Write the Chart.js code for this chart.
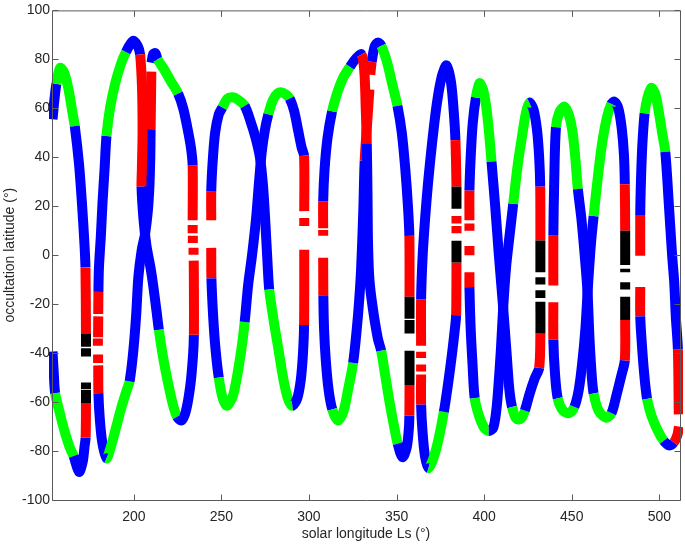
<!DOCTYPE html>
<html>
<head>
<meta charset="utf-8">
<script src="https://cdn.jsdelivr.net/npm/chart.js@4"></script>
<style>
  html, body { margin: 0; padding: 0; background: #fff; }
  canvas { display: block; }
</style>
</head>
<body>
<canvas id="chart" width="685" height="544"></canvas>
<script>
// tick labels
var lsTicks = [200, 250, 300, 350, 400, 450, 500];
var latTicks = [-100, -80, -60, -40, -20, 0, 20, 40, 60, 80, 100];

// occultation tracks: [Ls, latitude, class]  b=blue g=green r=red k=black, null = gap
var upper1 = [[153.6,55.5,'b'],[154.6,63,'b'],[155.8,70,'g'],[157.9,76.5,'g'],[160.3,74.5,'g'],[162.8,67.5,'g'],[164.8,59,'g'],[166.3,52.7,'b'],[168.7,37.4,'b'],[170.4,21.2,'b'],[171.8,5,'b'],[172.4,-5,'r'],[172.7,-32.2,'k'],[172.7,-37.4,''],[172.7,null,''],[172.7,-38,'k'],[172.7,-41.4,'k']];
var lower1 = [[153.6,-39.4,'b'],[154.3,-48,'b'],[155.1,-56.4,'g'],[157.6,-64,'g'],[160.5,-72,'g'],[163.4,-78.5,'g'],[165.6,-82,'b'],[168.7,-88.5,'b'],[170.8,-84.5,'b'],[171.9,-78,'b'],[172.5,-74.5,'r'],[172.7,-60.4,'k'],[172.7,-55,''],[172.7,null,''],[172.7,-54.7,'k'],[172.7,-52,'k']];

var upper2 = [[179.5,-37,'r'],[179.5,-34,''],[179.5,null,''],[179.6,-33.5,'r'],[179.7,-25,''],[179.7,null,''],[179.7,-24,'r'],[179.8,-15,'b'],[180.1,-5,'b'],[181.2,8,'b'],[182.1,21,'b'],[183.3,35,'b'],[184.4,48.7,'g'],[186.4,60,'g'],[189.3,70,'g'],[192.6,78,'g'],[195.5,83,'b'],[199.5,87.5,'b'],[202.2,85.5,'b'],[203.6,82,'r'],[204.7,68,'r'],[205,50,'r'],[204.6,35,'r'],[204.4,28,'b'],[205.5,15,'b'],[207.2,4,'b'],[209.5,-5,'b'],[211,-12,'b'],[213,-23,'b'],[214.3,-30.5,'g'],[216.8,-42,'g'],[219.8,-53,'g'],[222.5,-61.5,'g'],[224.7,-66,'b'],[227.3,-67.5,'b'],[229.8,-63.5,'b'],[232.3,-53,'b'],[233.8,-41,'b'],[234.3,-32.5,'r'],[234.3,-11,'r'],[234.2,-2.2,''],[234.2,null,''],[234.1,0.2,'r'],[234.1,3,'r']];
var lower2 = [[179.6,-40.6,'r'],[179.6,-44,''],[179.6,null,''],[179.7,-45,'r'],[179.8,-56.4,'b'],[180.6,-67,'b'],[182,-76.5,'b'],[184.4,-83,'g'],[187,-78,'g'],[190,-70,'g'],[193,-62,'g'],[195.8,-55.5,'g'],[197.6,-51.5,'b'],[199.6,-40,'b'],[201.3,-25,'b'],[202.6,-9,'b'],[204.5,2,'b'],[206.5,9,'b'],[208,18,'b'],[208.9,28,'b'],[209.4,40,'b'],[209.6,51.5,'r'],[209.8,63,'r'],[210,75,''],[210,null,''],[210.1,78.6,'b'],[211,82,'b'],[212.3,82.5,'b'],[213.6,80,'g'],[217.2,76,'g'],[221.2,71,'g'],[225.3,66,'b'],[228.2,60,'b'],[230.6,52,'b'],[232.6,44,'b'],[233.6,36.6,'r'],[233.6,14.3,''],[233.6,null,''],[233.6,12.3,'r'],[233.6,9,''],[233.6,null,''],[233.7,7.9,'r'],[233.7,5,'r']];

var upper3 = [[244.2,14.3,'r'],[244.2,26,'b'],[245,38,'b'],[246.4,50,'b'],[248.5,57.5,'b'],[250.6,60.4,'g'],[253.5,64,'g'],[256.5,64.5,'g'],[259.5,63.5,'g'],[263.3,61,'b'],[266.5,55,'b'],[269.5,48,'b'],[272,40,'b'],[273.8,28,'b'],[275.2,12,'b'],[276.4,-4,'b'],[277.3,-14,'g'],[279.9,-27,'g'],[282.7,-39,'g'],[285.6,-51.5,'g'],[288.2,-59,'g'],[290.5,-61.5,'b'],[293.3,-58.5,'b'],[295.3,-51,'b'],[296.5,-41,'b'],[297.2,-28.5,'r'],[297.3,2.2,'r']];
var lower3 = [[244.2,3,'r'],[244.3,-9.5,'b'],[245.3,-25,'b'],[246.6,-38,'b'],[248.5,-50,'g'],[250.6,-58,'g'],[253,-61.5,'g'],[256.3,-58,'g'],[258.8,-50,'g'],[261.5,-38,'g'],[263.3,-27.3,'b'],[265.3,-12,'b'],[267.5,0,'b'],[269.8,15,'b'],[271.5,30,'b'],[273,42,'b'],[274.8,51,'b'],[276.8,57.6,'g'],[279.5,63.5,'g'],[282,66,'g'],[284.4,66.5,'g'],[287,65.5,'g'],[289,64,'b'],[291.5,59,'b'],[293.8,51,'b'],[295.8,44,'b'],[297.2,40.6,'r'],[297.3,18,''],[297.3,null,''],[297.3,15.2,'r'],[297.3,11.9,'r']];

var upper4 = [[308.1,7.9,'r'],[308.1,10.3,''],[308.1,null,''],[308.1,11,'r'],[308.1,22,'b'],[308.9,35,'b'],[310.6,48,'b'],[313.2,58.8,'g'],[316,66,'g'],[319.5,72.5,'g'],[323.4,77,'b'],[327,80.5,'b'],[330,82,'r'],[331.6,75,'r'],[332.4,60,'r'],[333,45.5,'b'],[333.4,25,'b'],[333.7,5,'b'],[334.5,-10,'b'],[336.5,-22,'b'],[339.3,-34,'b'],[341.2,-39,'g'],[343.5,-49,'g'],[346,-60,'g'],[348.6,-70,'g'],[350.6,-77,'b'],[353.4,-82.5,'b'],[355.8,-78.5,'b'],[357,-71,'b'],[357.3,-65.6,'r'],[357.4,-53,'k'],[357.4,-39,'k']];
var lower4 = [[308.1,-1,'r'],[308.2,-16.4,'b'],[308.6,-30,'b'],[309.6,-43,'b'],[311.2,-55,'b'],[313.3,-63,'g'],[316.4,-67.5,'g'],[319.6,-64,'g'],[322.3,-55,'g'],[325.2,-44,'b'],[327.3,-30,'b'],[328.7,-18,'b'],[329.8,-5,'b'],[331,18,'b'],[331.8,38.6,'r'],[333.3,55,'r'],[334.5,67.7,''],[334.5,null,''],[335,73.7,'r'],[335.8,79,'b'],[337.6,85.5,'b'],[339.4,86.9,'b'],[341.3,85.5,'g'],[344.5,79,'g'],[347.5,70,'g'],[350.5,61,'b'],[353,50,'b'],[355,35,'b'],[356.5,20,'b'],[357.3,7.9,'r'],[357.4,-17,'k'],[357.4,-26,''],[357.4,null,''],[357.4,-26.5,'k'],[357.4,-32,'k']];

var upper5 = [[364,-37,'r'],[364,-18,'b'],[364.9,0,'b'],[366.3,15,'b'],[367.9,29,'b'],[370.3,46,'b'],[373,62,'b'],[375.8,73,'b'],[378.5,77.5,'b'],[381,71,'b'],[382.6,59,'b'],[383.6,47,'r'],[384.2,28,'k'],[384.2,19,''],[384.2,null,''],[384.2,16,'r'],[384.2,13,''],[384.2,null,''],[384.2,11.9,'r'],[384.2,9,'r']];
var lower5 = [[364,-39.4,'r'],[364,-42,''],[364,null,''],[364,-44.6,'r'],[364,-47.5,''],[364,null,''],[364,-48.7,'r'],[364,-61,'b'],[364.8,-72,'b'],[366.2,-82,'b'],[368.2,-87,'g'],[371,-83,'g'],[374,-75,'g'],[377,-64,'b'],[379.5,-52,'b'],[381.7,-40,'b'],[383.3,-30,'b'],[384,-24.5,'r'],[384.2,-3,'k'],[384.2,5.9,'k']];

var upper6 = [[391.6,0,'r'],[391.6,3.8,''],[391.6,null,''],[391.6,10,'r'],[391.6,13,''],[391.6,null,''],[391.6,14.3,'r'],[391.6,26.5,'b'],[392.3,40,'b'],[393.5,54,'b'],[395.3,64.4,'g'],[397.3,70.3,'g'],[399.4,67.5,'g'],[401.3,60,'g'],[402.8,50,'g'],[404.2,38.2,'b'],[406.3,20,'b'],[408.4,0,'b'],[410.8,-21,'b'],[412.8,-40,'b'],[414.4,-55,'b'],[415.9,-62,'g'],[418.4,-66.8,'g'],[421,-66.8,'g'],[423.2,-63.5,'b'],[426,-56.5,'b'],[428.8,-50.5,'b'],[431.4,-46,'r'],[432.1,-32,'k'],[432.1,-19,''],[432.1,null,''],[432.1,-17.5,'k'],[432.1,-14.3,'k']];
var lower6 = [[391.6,-7,'r'],[391.6,-13,'b'],[392.3,-30,'b'],[393.4,-45,'b'],[394.6,-58.4,'g'],[397,-65.5,'g'],[400,-70.5,'g'],[402.6,-71.8,'b'],[405.2,-70.5,'b'],[407,-63,'b'],[408.3,-52,'b'],[409.6,-38,'b'],[410.9,-21,'b'],[412.5,-5,'b'],[414.5,8,'b'],[416.6,21,'g'],[419,36,'g'],[421.5,48,'g'],[423.8,58,'g'],[425.8,62.3,'b'],[428.2,59.5,'b'],[430.2,51,'b'],[431.4,40,'b'],[432,28,'r'],[432.1,6,'k'],[432.1,-7,''],[432.1,null,''],[432.1,-9,'k'],[432.1,-12,'k']];

var upper7 = [[439.5,-12.4,'r'],[439.5,8,'b'],[440,30,'b'],[441,52.3,'g'],[443,58.5,'g'],[445.8,60.7,'g'],[448.5,57,'g'],[450.5,50,'g'],[452,40,'g'],[453.5,27,'b'],[455.5,15,'b'],[457.4,0,'b'],[459,-15,'b'],[460.2,-35,'b'],[461.5,-50,'b'],[462.5,-56.5,'g'],[465.3,-63.5,'g'],[469.7,-66.4,'g'],[472.7,-64.5,'b'],[475.6,-57,'b'],[478.2,-49.5,'b'],[480.3,-43,'r'],[480.5,-26.5,'k'],[480.5,-17,'k']];
var lower7 = [[439.5,-19.2,'r'],[439.5,-34.5,'b'],[440.4,-48,'b'],[442,-58.5,'g'],[445,-63.5,'g'],[448.6,-64.5,'g'],[451.5,-62,'b'],[454,-55,'b'],[456,-44,'b'],[457.8,-30,'b'],[459.4,-11,'b'],[461,5,'b'],[462.5,16,'g'],[464.6,30,'g'],[467.2,45,'g'],[470,56,'g'],[472.6,61.8,'b'],[474.3,62.7,'b'],[476.6,60,'b'],[478.5,52,'b'],[479.8,41,'b'],[480.3,29,'r'],[480.5,10,'k'],[480.5,-4,''],[480.5,null,''],[480.5,-5.5,'k'],[480.5,-7,''],[480.5,null,''],[480.5,-11,'k'],[480.5,-14,'k']];

var upper8 = [[489.1,-0.2,'r'],[489.1,16.4,'b'],[489.5,30,'b'],[490.3,45,'b'],[491.6,58,'g'],[493.3,64.5,'g'],[495.4,68.4,'g'],[497.6,66,'g'],[499.6,59,'g'],[501.6,50,'g'],[503.4,42.2,'b'],[505.5,20,'b'],[507.3,0,'b'],[508.5,-11,'b'],[509.4,-25,'b'],[510.6,-38.6,'r'],[511.1,-65,'r']];
var lower8 = [[489.1,-13,'r'],[489.1,-25,'b'],[489.9,-35,'b'],[491.3,-48,'b'],[493,-58.7,'g'],[495.5,-65.5,'g'],[499,-71.5,'g'],[502.5,-75.8,'b'],[505.6,-77.7,'b'],[508.3,-76.5,'r'],[510.3,-73.5,'r'],[511.2,-70,'r']];

var tracks = [upper1, lower1, upper2, lower2, upper3, lower3, upper4, lower4,
              upper5, lower5, upper6, lower6, upper7, lower7, upper8, lower8];

var classColors = { b: '#0000ff', g: '#00ff00', r: '#ff0000', k: '#000000' };

function makeDataset(pts) {
  return {
    data: pts.map(function (p) { return { x: p[0], y: p[1] }; }),
    borderWidth: 10,
    borderCapStyle: 'butt',
    borderJoinStyle: 'round',
    pointRadius: 0,
    pointHoverRadius: 0,
    tension: 0.3,
    spanGaps: false,
    clip: 3,
    segment: {
      borderColor: function (c) {
        var cls = pts[c.p0DataIndex][2];
        return classColors[cls] || 'rgba(0,0,0,0)';
      }
    }
  };
}

// box with inward tick marks on all four sides (matlab style)
var boxPlugin = {
  id: 'box',
  afterDatasetsDraw: function (chart) {
    var ctx = chart.ctx;
    var a = chart.chartArea;
    var xs = chart.scales.x, ys = chart.scales.y;
    var L = a.left + 0.5, R = a.right + 0.5, T = a.top + 0.5, B = a.bottom + 0.5;
    ctx.save();
    ctx.lineWidth = 1;
    ctx.strokeStyle = '#5a5a5a';
    ctx.beginPath();
    ctx.moveTo(L, T); ctx.lineTo(R, T); ctx.lineTo(R, B); ctx.lineTo(L, B); ctx.closePath();
    lsTicks.forEach(function (v) {
      var px = Math.round(xs.getPixelForValue(v)) + 0.5;
      ctx.moveTo(px, B); ctx.lineTo(px, B - 6);
      ctx.moveTo(px, T); ctx.lineTo(px, T + 6);
    });
    latTicks.forEach(function (v) {
      var py = Math.round(ys.getPixelForValue(v)) + 0.5;
      ctx.moveTo(L, py); ctx.lineTo(L + 6, py);
      ctx.moveTo(R, py); ctx.lineTo(R - 6, py);
    });
    ctx.stroke();
    ctx.restore();
  }
};

Chart.defaults.font.family = '"Liberation Sans", Arial, Helvetica, sans-serif';
Chart.defaults.font.size = 14;
Chart.defaults.color = '#262626';

new Chart(document.getElementById('chart').getContext('2d'), {
  type: 'line',
  data: { datasets: tracks.map(makeDataset) },
  options: {
    responsive: false,
    animation: false,
    events: [],
    layout: { padding: { top: 5, right: 5, left: 0, bottom: 0 } },
    plugins: { legend: { display: false }, tooltip: { enabled: false } },
    scales: {
      x: {
        type: 'linear',
        min: 153.3,
        max: 511.8,
        grid: { display: false, drawTicks: false },
        border: { display: false },
        ticks: { padding: 9 },
        afterBuildTicks: function (s) { s.ticks = lsTicks.map(function (v) { return { value: v }; }); },
        afterFit: function (s) { s.height = 44; },
        title: { display: true, text: 'solar longitude Ls (°)', padding: { top: 0, bottom: 1 }, font: { size: 14 } }
      },
      y: {
        type: 'linear',
        min: -100,
        max: 100,
        grid: { display: false, drawTicks: false },
        border: { display: false },
        ticks: { padding: 2 },
        afterBuildTicks: function (s) { s.ticks = latTicks.map(function (v) { return { value: v }; }); },
        afterFit: function (s) { s.width = 52; },
        title: { display: true, text: 'occultation latitude (°)', padding: { top: 2, bottom: 0 }, font: { size: 14 } }
      }
    }
  },
  plugins: [boxPlugin]
});
</script>
</body>
</html>
